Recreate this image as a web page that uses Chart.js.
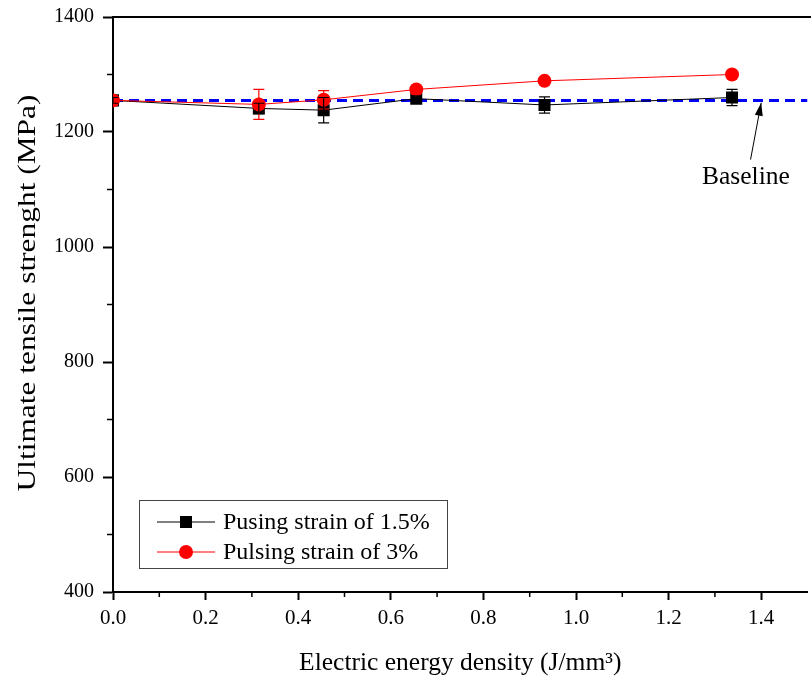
<!DOCTYPE html>
<html>
<head>
<meta charset="utf-8">
<script src="https://cdn.jsdelivr.net/npm/chart.js@4/dist/chart.umd.min.js"></script>
<style>
  html, body { margin: 0; padding: 0; background: #fff; overflow: hidden; }
  #wrap { width: 816px; height: 682px; }
</style>
</head>
<body>
<div id="wrap"><canvas id="chart" width="816" height="682"></canvas></div>
<script>
// data
const energy = [0, 0.315, 0.455, 0.655, 0.932, 1.337];
const strain15 = [1255, 1241, 1238, 1258, 1247, 1260];
const strain15Err = [5, 9, 22, 5, 14, 14];
const strain3 = [1255, 1248, 1256, 1274, 1289, 1300];
const strain3Err = [5, 26, 16, 4, 4, 4];
const baselineX = [0, 1.5];
const baselineY = [1255, 1255];
const xTicks = [0, 0.2, 0.4, 0.6, 0.8, 1.0, 1.2, 1.4];
const yTicks = [400, 600, 800, 1000, 1200, 1400];
const xMinor = [0.1, 0.3, 0.5, 0.7, 0.9, 1.1, 1.3];
const yMinor = [500, 700, 900, 1100, 1300];
const note = { text: 'Baseline', x: 1.367, y: 1122, tailX: 1.377, tailY: 1152, tipX: 1.40, tipY: 1251 };
const yTitle = 'Ultimate tensile strenght (MPa)';

const serif = "'Liberation Serif', 'Times New Roman', serif";

const pts = (xs, ys) => xs.map((x, i) => ({ x: x, y: ys[i] }));

const extras = {
  id: 'extras',
  afterDatasetsDraw(chart) {
    const ctx = chart.ctx;
    const xs = chart.scales.x, ys = chart.scales.y;
    const area = chart.chartArea;

    // error bars
    const bars = [[strain3, strain3Err, '#ff0000'], [strain15, strain15Err, '#000000']];
    ctx.save();
    ctx.beginPath();
    ctx.rect(area.left, area.top, area.right - area.left, area.bottom - area.top);
    ctx.clip();
    bars.forEach(([vals, errs, col]) => {
      ctx.strokeStyle = col;
      ctx.lineWidth = 1.2;
      energy.forEach((e, i) => {
        const px = xs.getPixelForValue(e);
        const top = ys.getPixelForValue(vals[i] + errs[i]);
        const bot = ys.getPixelForValue(vals[i] - errs[i]);
        ctx.beginPath();
        ctx.moveTo(px, top); ctx.lineTo(px, bot);
        ctx.moveTo(px - 5.5, top); ctx.lineTo(px + 5.5, top);
        ctx.moveTo(px - 5.5, bot); ctx.lineTo(px + 5.5, bot);
        ctx.stroke();
      });
    });
    ctx.restore();

    ctx.save();
    // top frame line
    ctx.strokeStyle = '#000';
    ctx.lineWidth = 2;
    ctx.beginPath();
    ctx.moveTo(area.left - 1, area.top);
    ctx.lineTo(chart.width, area.top);
    ctx.stroke();

    // minor ticks
    ctx.lineWidth = 1.5;
    ctx.beginPath();
    xMinor.forEach(v => {
      const px = xs.getPixelForValue(v);
      ctx.moveTo(px, area.bottom); ctx.lineTo(px, area.bottom + 5);
    });
    yMinor.forEach(v => {
      const py = ys.getPixelForValue(v);
      ctx.moveTo(area.left, py); ctx.lineTo(area.left - 6, py);
    });
    ctx.stroke();

    // baseline note with arrow
    const tx = xs.getPixelForValue(note.tailX), ty = ys.getPixelForValue(note.tailY);
    const hx = xs.getPixelForValue(note.tipX), hy = ys.getPixelForValue(note.tipY);
    ctx.lineWidth = 1;
    ctx.beginPath();
    ctx.moveTo(tx, ty); ctx.lineTo(hx, hy);
    ctx.stroke();
    const ang = Math.atan2(hy - ty, hx - tx);
    ctx.fillStyle = '#000';
    ctx.beginPath();
    ctx.moveTo(hx, hy);
    ctx.lineTo(hx - 13 * Math.cos(ang) + 4 * Math.sin(ang), hy - 13 * Math.sin(ang) - 4 * Math.cos(ang));
    ctx.lineTo(hx - 13 * Math.cos(ang) - 4 * Math.sin(ang), hy - 13 * Math.sin(ang) + 4 * Math.cos(ang));
    ctx.closePath();
    ctx.fill();
    ctx.font = '25.5px ' + serif;
    ctx.textAlign = 'center';
    ctx.textBaseline = 'middle';
    ctx.fillText(note.text, xs.getPixelForValue(note.x), ys.getPixelForValue(note.y));

    // y axis title, stretched along its length like the original
    ctx.save();
    ctx.translate(28, 293);
    ctx.rotate(-Math.PI / 2);
    ctx.font = '26px ' + serif;
    const w = ctx.measureText(yTitle).width;
    ctx.scale(397 / w, 1);
    ctx.fillText(yTitle, 0, 0);
    ctx.restore();

    // legend box
    const lx = 139, ly = 500, lw = 308, lh = 68;
    ctx.strokeStyle = '#444';
    ctx.lineWidth = 1;
    ctx.strokeRect(lx + 0.5, ly + 0.5, lw, lh);
    const rows = [chart.data.datasets[1], chart.data.datasets[2]];
    rows.forEach((ds, i) => {
      const cy = ly + 22 + i * 30;
      ctx.strokeStyle = ds.borderColor;
      ctx.lineWidth = 1;
      ctx.beginPath();
      ctx.moveTo(157, cy); ctx.lineTo(215, cy);
      ctx.stroke();
      ctx.fillStyle = ds.pointBackgroundColor;
      if (ds.pointStyle === 'rect') {
        ctx.fillRect(180, cy - 6, 12, 12);
      } else {
        ctx.beginPath();
        ctx.arc(186, cy, 7, 0, Math.PI * 2);
        ctx.fill();
      }
      ctx.fillStyle = '#000';
      ctx.font = '24px ' + serif;
      ctx.textAlign = 'left';
      ctx.fillText(ds.label, 223, cy + 1);
    });
    ctx.restore();
  }
};

new Chart(document.getElementById('chart'), {
  type: 'line',
  data: {
    datasets: [
      {
        label: 'Baseline',
        data: pts(baselineX, baselineY),
        borderColor: '#0000ff',
        borderWidth: 3,
        borderDash: [10, 6],
        pointRadius: 0,
        order: 2
      },
      {
        label: 'Pusing strain of 1.5%',
        data: pts(energy, strain15),
        borderColor: '#000000',
        borderWidth: 1,
        pointStyle: 'rect',
        pointRadius: 8.5,
        pointBackgroundColor: '#000000',
        pointBorderColor: '#000000',
        pointBorderWidth: 0,
        order: 1
      },
      {
        label: 'Pulsing strain of 3%',
        data: pts(energy, strain3),
        borderColor: '#ff0000',
        borderWidth: 1,
        pointStyle: 'circle',
        pointRadius: 7,
        pointBackgroundColor: '#ff0000',
        pointBorderColor: '#ff0000',
        pointBorderWidth: 0,
        order: 0
      }
    ]
  },
  options: {
    responsive: false,
    animation: false,
    layout: { padding: { left: 0, top: 17, right: 1, bottom: 0 } },
    plugins: {
      legend: { display: false },
      tooltip: { enabled: false }
    },
    scales: {
      x: {
        type: 'linear',
        min: 0,
        max: 1.5,
        afterFit: s => { s.height = 90; s.paddingLeft = 0; s.paddingRight = 0; },
        afterBuildTicks: s => { s.ticks = xTicks.map(v => ({ value: v })); },
        border: { color: '#000', width: 2 },
        grid: { drawOnChartArea: false, tickLength: 8, tickWidth: 2, tickColor: '#000' },
        ticks: {
          color: '#000',
          font: { family: serif, size: 21 },
          padding: 6,
          maxRotation: 0,
          callback: v => v.toFixed(1)
        },
        title: {
          display: true,
          text: 'Electric energy density (J/mm³)',
          color: '#000',
          font: { family: serif, size: 25.5 },
          padding: { top: 0, bottom: 3 }
        }
      },
      y: {
        type: 'linear',
        min: 400,
        max: 1400,
        afterFit: s => { s.width = 113; s.paddingTop = 0; s.paddingBottom = 0; },
        afterBuildTicks: s => { s.ticks = yTicks.map(v => ({ value: v })); },
        border: { color: '#000', width: 2 },
        grid: { drawOnChartArea: false, tickLength: 10, tickWidth: 2, tickColor: '#000' },
        ticks: {
          color: '#000',
          font: { family: serif, size: 20 },
          padding: 9,
          callback: v => String(v)
        },
        title: { display: false }
      }
    }
  },
  plugins: [extras]
});
</script>
</body>
</html>
